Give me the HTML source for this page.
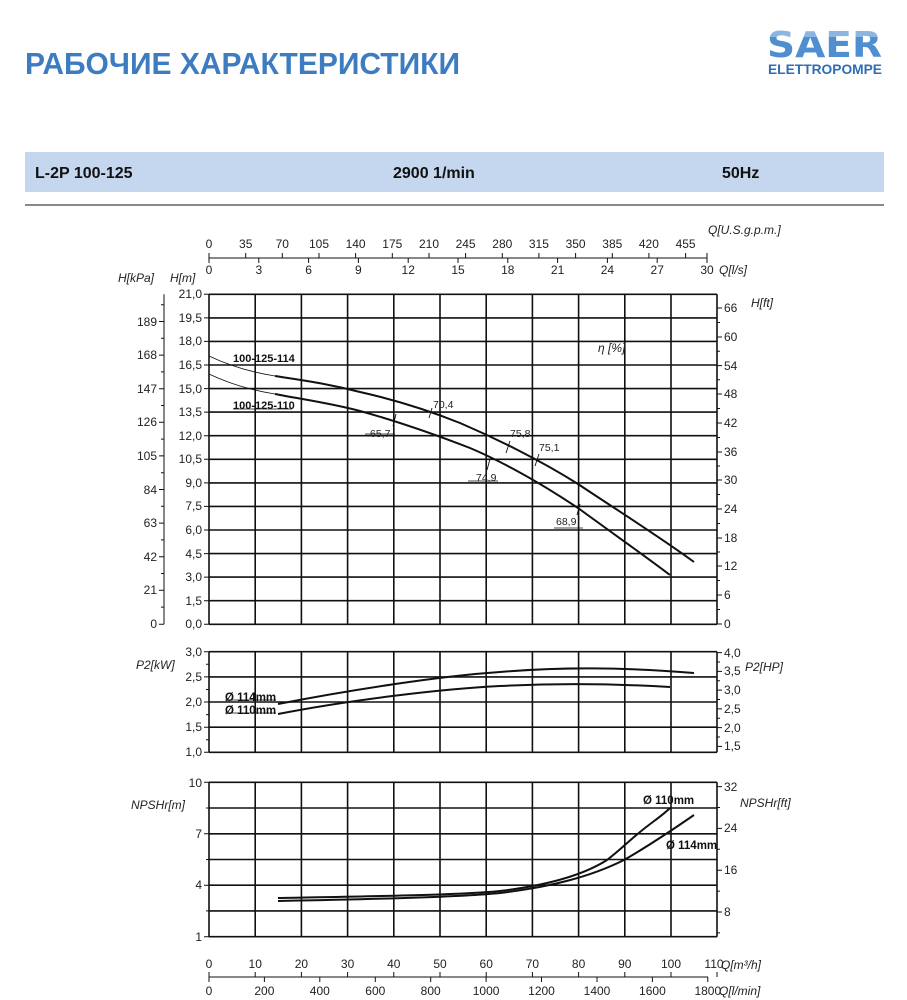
<!DOCTYPE html>
<html><head><meta charset="utf-8"><style>
html,body{margin:0;padding:0;background:#fff;width:907px;height:1000px;overflow:hidden}
svg{display:block}
text{font-family:"Liberation Sans",Arial,sans-serif}
</style></head><body>
<svg width="907" height="1000" viewBox="0 0 907 1000" xmlns="http://www.w3.org/2000/svg">
<text x="25" y="74" font-size="31" font-weight="bold" fill="#3d7cc0" textLength="435" lengthAdjust="spacingAndGlyphs" font-family="'Liberation Sans','DejaVu Sans',sans-serif">РАБОЧИЕ ХАРАКТЕРИСТИКИ</text>
<!-- logo -->
<text x="767" y="57" font-size="36" font-weight="bold" fill="#4f8fd0" textLength="115" lengthAdjust="spacingAndGlyphs" style="font-family:'DejaVu Sans',sans-serif">SAER</text>
<rect x="766" y="27" width="118" height="10" fill="#fff" opacity="0.35"/>
<text x="768" y="74" font-size="14" font-weight="bold" fill="#2f6db5" textLength="114" lengthAdjust="spacingAndGlyphs">ELETTROPOMPE</text>
<!-- header bar -->
<rect x="25" y="152" width="859" height="40" fill="#c5d7ee"/>
<text x="35" y="178" font-size="16" font-weight="bold" fill="#111">L-2P 100-125</text>
<text x="393" y="178" font-size="16" font-weight="bold" fill="#111">2900 1/min</text>
<text x="722" y="178" font-size="16" font-weight="bold" fill="#111">50Hz</text>
<rect x="25" y="204" width="859" height="2" fill="#888"/>

<g stroke="#111" fill="none" stroke-width="1.6">
<path d="M209 294.3H717M209 317.9H717M209 341.4H717M209 365H717M209 388.6H717M209 412.1H717M209 435.7H717M209 459.3H717M209 482.9H717M209 506.4H717M209 530H717M209 553.6H717M209 577.1H717M209 600.7H717M209 624.3H717"/>
<path d="M209 294.3V624.3M255.2 294.3V624.3M301.4 294.3V624.3M347.6 294.3V624.3M393.8 294.3V624.3M440 294.3V624.3M486.2 294.3V624.3M532.4 294.3V624.3M578.6 294.3V624.3M624.8 294.3V624.3M671 294.3V624.3M717 294.3V624.3"/>
<path d="M209 651.7H717M209 676.9H717M209 702H717M209 727.2H717M209 752.3H717"/>
<path d="M209 651.7V752.3M255.2 651.7V752.3M301.4 651.7V752.3M347.6 651.7V752.3M393.8 651.7V752.3M440 651.7V752.3M486.2 651.7V752.3M532.4 651.7V752.3M578.6 651.7V752.3M624.8 651.7V752.3M671 651.7V752.3M717 651.7V752.3"/>
<path d="M209 782.3H717M209 808H717M209 833.8H717M209 859.5H717M209 885.2H717M209 910.9H717M209 936.7H717"/>
<path d="M209 782.3V936.7M255.2 782.3V936.7M301.4 782.3V936.7M347.6 782.3V936.7M393.8 782.3V936.7M440 782.3V936.7M486.2 782.3V936.7M532.4 782.3V936.7M578.6 782.3V936.7M624.8 782.3V936.7M671 782.3V936.7M717 782.3V936.7"/>
</g>
<g stroke="#111" fill="none" stroke-width="1">
<path d="M204 294.3H209M204 317.9H209M204 341.4H209M204 365H209M204 388.6H209M204 412.1H209M204 435.7H209M204 459.3H209M204 482.9H209M204 506.4H209M204 530H209M204 553.6H209M204 577.1H209M204 600.7H209M204 624.3H209"/>
<path d="M204 651.7H209M204 676.9H209M204 702H209M204 727.2H209M204 752.3H209M206 664.3H209M206 689.5H209M206 714.6H209M206 739.8H209"/>
<path d="M204 782.3H209M204 833.8H209M204 885.2H209M204 936.7H209M206 808H209M206 859.5H209M206 910.9H209"/>
<path d="M164 294.3V624.3M159 321.5H164M159 355.1H164M159 388.7H164M159 422.3H164M159 455.9H164M159 489.5H164M159 523.1H164M159 556.7H164M159 590.3H164M159 624.3H164M161 304.7H164M161 338.3H164M161 371.9H164M161 405.5H164M161 439.1H164M161 472.7H164M161 506.3H164M161 539.9H164M161 573.5H164M161 607.1H164"/>
<path d="M717 308H722M717 337H722M717 365.6H722M717 394H722M717 423H722M717 452H722M717 480H722M717 509H722M717 538H722M717 566H722M717 595H722M717 624H722M717 322.5H720M717 351.3H720M717 379.8H720M717 408.5H720M717 437.5H720M717 466H720M717 494.5H720M717 523.5H720M717 552H720M717 580.5H720M717 609.5H720"/>
<path d="M717 652.6H722M717 671.4H722M717 690.1H722M717 708.9H722M717 727.6H722M717 746.4H722M717 662H720M717 680.8H720M717 699.5H720M717 718.3H720M717 737H720"/>
<path d="M717 786.6H722M717 828.4H722M717 870.2H722M717 912H722M717 807.5H720M717 849.3H720M717 891.1H720M717 932.9H720"/>
<path d="M209 258H707M209 253V263M245.7 253V258M282.3 253V258M319 253V258M355.6 253V258M392.3 253V258M429 253V258M465.6 253V258M502.3 253V258M538.9 253V258M575.6 253V258M612.3 253V258M648.9 253V258M685.6 253V258M258.8 258V263M308.6 258V263M358.4 258V263M408.2 258V263M458 258V263M507.8 258V263M557.6 258V263M607.4 258V263M657.2 258V263M707 253V263"/>
<path d="M209 977H708M209 972V982M255.2 972V977M301.4 972V977M347.6 972V977M393.8 972V977M440 972V977M486.2 972V977M532.4 972V977M578.6 972V977M624.8 972V977M671 972V977M717 972V977M264.4 977V982M319.8 977V982M375.3 977V982M430.7 977V982M486.1 977V982M541.5 977V982M597 977V982M652.4 977V982M707.8 977V982"/>
</g>

<g font-size="12" fill="#222" text-anchor="end">
<text x="202" y="298">21,0</text><text x="202" y="322">19,5</text><text x="202" y="345">18,0</text><text x="202" y="369">16,5</text><text x="202" y="393">15,0</text><text x="202" y="416">13,5</text><text x="202" y="440">12,0</text><text x="202" y="463">10,5</text><text x="202" y="487">9,0</text><text x="202" y="510">7,5</text><text x="202" y="534">6,0</text><text x="202" y="558">4,5</text><text x="202" y="581">3,0</text><text x="202" y="605">1,5</text><text x="202" y="628">0,0</text>
<text x="157" y="326">189</text><text x="157" y="359">168</text><text x="157" y="393">147</text><text x="157" y="426">126</text><text x="157" y="460">105</text><text x="157" y="494">84</text><text x="157" y="527">63</text><text x="157" y="561">42</text><text x="157" y="594">21</text><text x="157" y="628">0</text>
<text x="202" y="656">3,0</text><text x="202" y="681">2,5</text><text x="202" y="706">2,0</text><text x="202" y="731">1,5</text><text x="202" y="756">1,0</text>
<text x="202" y="787">10</text><text x="202" y="838">7</text><text x="202" y="889">4</text><text x="202" y="941">1</text>
</g>
<g font-size="12" fill="#222">
<text x="724" y="312">66</text><text x="724" y="341">60</text><text x="724" y="370">54</text><text x="724" y="398">48</text><text x="724" y="427">42</text><text x="724" y="456">36</text><text x="724" y="484">30</text><text x="724" y="513">24</text><text x="724" y="542">18</text><text x="724" y="570">12</text><text x="724" y="599">6</text><text x="724" y="628">0</text>
<text x="724" y="657">4,0</text><text x="724" y="675">3,5</text><text x="724" y="694">3,0</text><text x="724" y="713">2,5</text><text x="724" y="732">2,0</text><text x="724" y="750">1,5</text>
<text x="724" y="791">32</text><text x="724" y="832">24</text><text x="724" y="874">16</text><text x="724" y="916">8</text>
</g>
<g font-size="12" fill="#222" text-anchor="middle">
<text x="209" y="248">0</text><text x="245.7" y="248">35</text><text x="282.3" y="248">70</text><text x="319" y="248">105</text><text x="355.6" y="248">140</text><text x="392.3" y="248">175</text><text x="429" y="248">210</text><text x="465.6" y="248">245</text><text x="502.3" y="248">280</text><text x="538.9" y="248">315</text><text x="575.6" y="248">350</text><text x="612.3" y="248">385</text><text x="648.9" y="248">420</text><text x="685.6" y="248">455</text>
<text x="209" y="274">0</text><text x="258.8" y="274">3</text><text x="308.6" y="274">6</text><text x="358.4" y="274">9</text><text x="408.2" y="274">12</text><text x="458" y="274">15</text><text x="507.8" y="274">18</text><text x="557.6" y="274">21</text><text x="607.4" y="274">24</text><text x="657.2" y="274">27</text><text x="707" y="274">30</text>
<text x="209" y="968">0</text><text x="255.2" y="968">10</text><text x="301.4" y="968">20</text><text x="347.6" y="968">30</text><text x="393.8" y="968">40</text><text x="440" y="968">50</text><text x="486.2" y="968">60</text><text x="532.4" y="968">70</text><text x="578.6" y="968">80</text><text x="624.8" y="968">90</text><text x="671" y="968">100</text><text x="714" y="968">110</text>
<text x="209" y="995">0</text><text x="264.4" y="995">200</text><text x="319.8" y="995">400</text><text x="375.3" y="995">600</text><text x="430.7" y="995">800</text><text x="486.1" y="995">1000</text><text x="541.5" y="995">1200</text><text x="597" y="995">1400</text><text x="652.4" y="995">1600</text><text x="707.8" y="995">1800</text>
</g>
<g font-size="12" fill="#222" font-style="italic">
<text x="708" y="234">Q[U.S.g.p.m.]</text>
<text x="719" y="274">Q[l/s]</text>
<text x="118" y="282">H[kPa]</text>
<text x="170" y="282">H[m]</text>
<text x="751" y="307">H[ft]</text>
<text x="598" y="352">η [%]</text>
<text x="136" y="669">P2[kW]</text>
<text x="745" y="671">P2[HP]</text>
<text x="131" y="809">NPSHr[m]</text>
<text x="740" y="807">NPSHr[ft]</text>
<text x="721" y="969">Q[m³/h]</text>
<text x="719" y="995">Q[l/min]</text>
</g>

<g fill="none" stroke="#111">
<path d="M209 356 C230 366 250 372 275 376" stroke-width="0.8"/>
<path d="M209 374 C230 384 250 390 275 394" stroke-width="0.8"/>
<path d="M275 376 C300 380 325 383 360 392 C400 401 430 411 460 423 C495 438 540 460 578 484 C620 512 660 537 694 562" stroke-width="2"/>
<path d="M275 394 C300 399 330 403 360 411 C400 422 439 436 470 448 C510 465 545 486 578 508 C615 535 645 556 670 575" stroke-width="2"/>
</g>
<g stroke="#111" stroke-width="0.9" fill="none">
<path d="M432 408l-3 10M510 441l-4 12M539 454l-4 12M396 414l-3 12M490 459l-3 11M580 504l-3 11"/>
<path d="M233 409H292M365 434H395M468 481H498M554 528H583" stroke-width="0.7"/>
</g>
<g font-size="10.5" fill="#222">
<text x="433" y="408">70,4</text><text x="510" y="437">75,8</text><text x="539" y="451">75,1</text><text x="370" y="437">65,7</text><text x="476" y="481">74,9</text><text x="556" y="525">68,9</text>
</g>
<g font-size="11" font-weight="bold" fill="#111">
<text x="233" y="362">100-125-114</text>
<text x="233" y="409">100-125-110</text>
</g>

<g fill="none" stroke="#111" stroke-width="2">
<path d="M278 704 C350 690 440 676 500 672 C560 667 620 667 694 673"/>
<path d="M278 714 C350 700 440 689 500 686 C560 683 620 684 670 687"/>
</g>
<path d="M225 700H276M225 713H276" stroke="#111" stroke-width="0.7"/>
<g font-size="11.5" font-weight="bold" fill="#111">
<text x="225" y="701">Ø 114mm</text>
<text x="225" y="714">Ø 110mm</text>
</g>

<g fill="none" stroke="#111" stroke-width="2">
<path d="M278 898 C380 896 460 895 500 891 C550 885 585 874 607 860 C620 850 630 840 640 832 C652 822 662 816 670 808"/>
<path d="M278 901 C380 899 460 897 500 893 C550 887 590 877 624 860 C645 848 665 835 694 815"/>
</g>
<g font-size="11.5" font-weight="bold" fill="#111">
<text x="643" y="804">Ø 110mm</text>
<text x="666" y="849">Ø 114mm</text>
</g>
</svg>
</body></html>
